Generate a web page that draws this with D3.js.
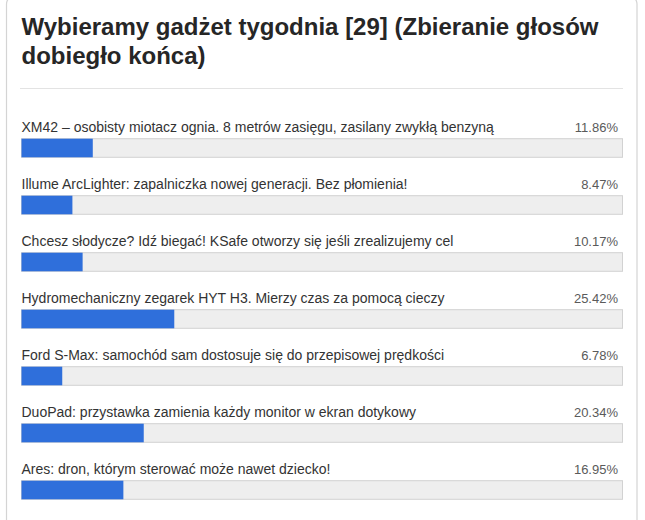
<!DOCTYPE html>
<html>
<head>
<meta charset="utf-8">
<script src="https://cdn.jsdelivr.net/npm/d3@7"></script>
<style>
  html, body { margin: 0; padding: 0; background: #fff; }
  svg { display: block; }
</style>
</head>
<body>
<svg id="chart" width="645" height="520"></svg>
<script>
const titleLines = ["Wybieramy gadżet tygodnia [29] (Zbieranie głosów", "dobiegło końca)"];
const categories = [
  "XM42 – osobisty miotacz ognia. 8 metrów zasięgu, zasilany zwykłą benzyną",
  "Illume ArcLighter: zapalniczka nowej generacji. Bez płomienia!",
  "Chcesz słodycze? Idź biegać! KSafe otworzy się jeśli zrealizujemy cel",
  "Hydromechaniczny zegarek HYT H3. Mierzy czas za pomocą cieczy",
  "Ford S-Max: samochód sam dostosuje się do przepisowej prędkości",
  "DuoPad: przystawka zamienia każdy monitor w ekran dotykowy",
  "Ares: dron, którym sterować może nawet dziecko!"
];
const values = [11.86, 8.47, 10.17, 25.42, 6.78, 20.34, 16.95];
const valueLabels = ["11.86%", "8.47%", "10.17%", "25.42%", "6.78%", "20.34%", "16.95%"];

const svg = d3.select("#chart");
const font = "'Liberation Sans', Arial, sans-serif";

// card
svg.append("rect")
  .attr("x", 6.5).attr("y", -4).attr("width", 630.5).attr("height", 540)
  .attr("rx", 8).attr("fill", "#fff").attr("stroke", "#d4d4d4").attr("stroke-width", 1.2);

// title
svg.append("g").selectAll("text").data(titleLines).join("text")
  .attr("x", 21.5).attr("y", (d, i) => 34.5 + i * 29.5)
  .attr("font-family", font).attr("font-size", 24).attr("font-weight", "bold")
  .attr("fill", "#262626").text(d => d);

// separator
svg.append("line").attr("x1", 20).attr("x2", 623).attr("y1", 88.5).attr("y2", 88.5)
  .attr("stroke", "#e3e3e3").attr("stroke-width", 1);

const x0 = 21.5, x1 = 622.5;
const x = d3.scaleLinear().domain([0, 100]).range([x0, x1]);
const y = d3.scaleBand().domain(d3.range(categories.length)).range([138.7, 138.7 + 57 * categories.length]).paddingInner(0).paddingOuter(0);
const barH = 18.6;

const rows = svg.append("g").selectAll("g").data(categories).join("g")
  .attr("transform", (d, i) => `translate(0,${y(i)})`);

rows.append("text").attr("x", x0).attr("y", -6.5)
  .attr("font-family", font).attr("font-size", 14).attr("fill", "#333")
  .text(d => d);

rows.append("text").attr("x", x1 - 4.5).attr("y", -6.5).attr("text-anchor", "end")
  .attr("font-family", font).attr("font-size", 13).attr("fill", "#5a5a5a")
  .text((d, i) => valueLabels[i]);

rows.append("rect").attr("x", x0).attr("y", 0).attr("width", x1 - x0).attr("height", barH)
  .attr("fill", "#eeeeee").attr("stroke", "#d2d2d2").attr("stroke-width", 1);

rows.append("rect").attr("x", x0).attr("y", 0)
  .attr("width", (d, i) => x(values[i]) - x0).attr("height", barH)
  .attr("fill", "#2f6fdb");
</script>
</body>
</html>
